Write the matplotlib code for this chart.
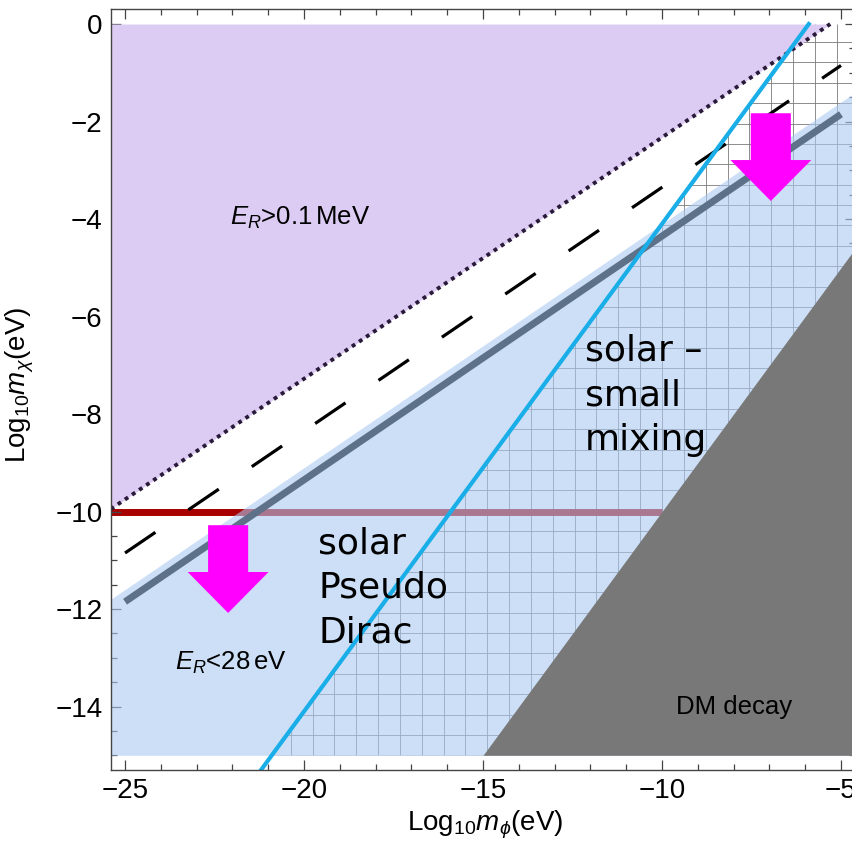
import numpy as np
import matplotlib
matplotlib.use('Agg')
import matplotlib.pyplot as plt
from matplotlib.patches import Polygon
from matplotlib.ticker import MultipleLocator

plt.rcParams['font.family'] = ['Liberation Sans', 'DejaVu Sans']
plt.rcParams['mathtext.fontset'] = 'custom'
plt.rcParams['mathtext.rm'] = 'Liberation Sans'
plt.rcParams['mathtext.it'] = 'Liberation Sans:italic'
plt.rcParams['mathtext.fallback'] = 'cm'

# boundaries in (log10 m_phi, log10 m_chi)
er_max_x = [-25.4, -5.3]        # E_R > 0.1 MeV edge (dotted)
er_max_y = [-9.95, 0.0]
er_mid_x = [-25.0, -5.0]        # dashed reference line
er_mid_y = [-10.85, -0.85]
pd_x = [-25.0, -5.0]            # pseudo-Dirac solar line (thick grey)
pd_y = [-11.85, -1.85]
er_min_x = [-25.4, -4.6]        # E_R < 28 eV edge (blue region)
er_min_y = [-11.8, -1.4]
mix_x = [-21.2, -5.9]           # small mixing solar line (cyan)
mix_y = [-15.3, 0.0]
decay_x = [-15.0, -4.6]         # DM decay edge
decay_y = [-15.0, -4.6]
bound_y = -10.0                 # horizontal bound
bound_x = [-25.4, -10.0]

xmin, xmax = -25.4, -4.6
ymin, ymax = -15.3, 0.3
ybot, ytop = -15.0, 0.0

fig = plt.figure(figsize=(8.53, 8.47), dpi=100)
ax = fig.add_axes([0.1298, 0.0910, 0.8729, 0.8979])
ax.set_xlim(xmin, xmax)
ax.set_ylim(ymin, ymax)

# mesh on the right of the cyan line
cx0 = np.interp(ybot, mix_y, mix_x)
cx1 = np.interp(ytop, mix_y, mix_x)
clip = Polygon([(cx0, ybot), (cx1, ytop), (xmax, ytop), (xmax, ybot)],
               closed=True, facecolor='none', edgecolor='none', transform=ax.transData)
ax.add_patch(clip)
gx = np.concatenate([np.arange(-10.0, xmin, -0.61), np.arange(-10.0 + 0.61, xmax, 0.61)])
gy = np.arange(ybot, ytop + 0.01, 0.418)
vl = ax.vlines(gx, ybot, ytop, colors='#7a7a7a', linewidth=0.6, zorder=1)
hl = ax.hlines(gy, xmin, xmax, colors='#7a7a7a', linewidth=0.6, zorder=1)
vl.set_clip_path(clip)
hl.set_clip_path(clip)

# horizontal bound, dark red on white
ax.plot(bound_x, [bound_y, bound_y], color='#a80000', linewidth=5, solid_capstyle='butt', zorder=1.5)

# E_R > 0.1 MeV region
xs = np.linspace(xmin, xmax, 200)
top_line = np.interp(xs, er_max_x, er_max_y, right=ytop)
ax.fill_between(xs, top_line, ytop, where=top_line < ytop, color='#dccbf3', linewidth=0, zorder=2)

# E_R < 28 eV region
blue_top = np.interp(xs, er_min_x, er_min_y)
ax.fill_between(xs, ybot, blue_top, color='#aacaf2', alpha=0.6, linewidth=0, zorder=3)

# DM decay region
dx = np.linspace(decay_x[0], xmax, 50)
ax.fill_between(dx, ybot, np.interp(dx, decay_x, decay_y), color='#787878', linewidth=0, zorder=4)

ax.plot(pd_x, pd_y, color='#5d7189', linewidth=5, solid_capstyle='butt', zorder=5)
ax.plot(er_mid_x, er_mid_y, color='black', linewidth=2.3, linestyle=(0, (11.5, 12.5)), zorder=5)
ax.plot(er_max_x, er_max_y, color='#2a1a3a', linewidth=2.8, linestyle=(0, (1, 1.2)), zorder=5)
ax.plot(mix_x, mix_y, color='#1aaee8', linewidth=3, zorder=5)

# arrows
for x0, y0, y1 in [(-22.12, -10.28, -12.08), (-6.96, -1.83, -3.63)]:
    ax.arrow(x0, y0, 0, y1 - y0, width=1.12, head_width=2.26, head_length=0.84,
             length_includes_head=True, color='#ff00ff', linewidth=0, zorder=6)

ax.text(-20.1, -3.98, r'$E_R$>0.1$\,$MeV', fontsize=18.5, ha='center', va='center', zorder=7)
ax.text(-22.05, -13.1, r'$E_R$<28$\,$eV', fontsize=18.5, ha='center', va='center', zorder=7)
ax.text(-8.0, -14.0, 'DM decay', fontsize=18.5, ha='center', va='center', zorder=7)
ax.text(-19.6, -10.3, 'solar\nPseudo\nDirac', fontsize=26, family='DejaVu Sans',
        ha='left', va='top', linespacing=1.4, zorder=7)
ax.text(-12.15, -6.35, 'solar \u2013\nsmall\nmixing', fontsize=26, family='DejaVu Sans',
        ha='left', va='top', linespacing=1.4, zorder=7)

ax.set_xticks([-25, -20, -15, -10, -5])
ax.set_yticks(np.arange(-14, 1, 2))
ax.xaxis.set_minor_locator(MultipleLocator(1))
ax.yaxis.set_minor_locator(MultipleLocator(0.5))
ax.tick_params(which='both', direction='in', top=True, right=True, color='#444444', width=0.9,
               labelsize=20, zorder=8)
ax.tick_params(which='major', length=7, pad=6)
ax.tick_params(which='minor', length=4)
for sp in ax.spines.values():
    sp.set_color('#444444')
    sp.set_linewidth(1.0)
    sp.set_zorder(8)

fig.text(485 / 853, 1 - 825 / 847, r'Log$_{10}$$m_\phi$(eV)', fontsize=20, ha='center', va='center')
fig.text(20 / 853, 1 - 385 / 847, r'Log$_{10}$$m_\chi$(eV)', fontsize=20, ha='center', va='center',
         rotation=90)

fig.savefig('out.png', dpi=100)
